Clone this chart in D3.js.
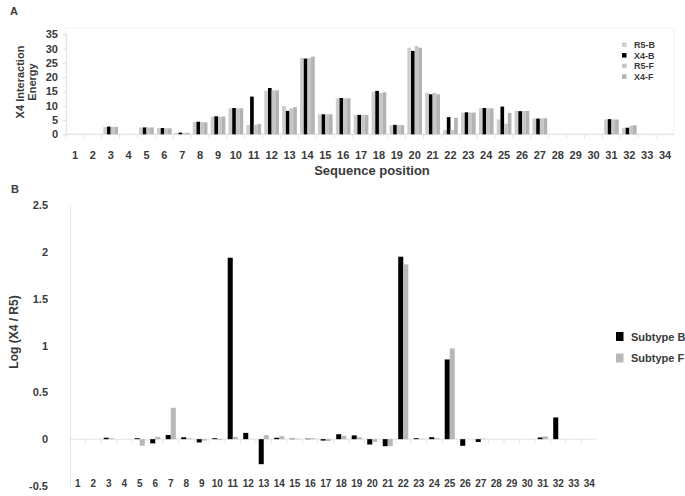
<!DOCTYPE html>
<html lang="en">
<head>
    <meta charset="UTF-8">
    <title>X4 / R5 interaction energy</title>
    <script src="https://d3js.org/d3.v7.min.js"></script>
    <style>
        body {
            margin: 0;
            background-color: #ffffff;
        }
        svg text {
            font-family: "Liberation Sans", Arial, sans-serif;
            font-weight: bold;
            fill: #3a3a3a;
        }
    </style>
</head>
<body>
<svg id='canvas' width='685' height='496'></svg>

<script>
let positions = ['1','2','3','4','5','6','7','8','9','10','11','12','13','14','15','16','17',
    '18','19','20','21','22','23','24','25','26','27','28','29','30','31','32','33','34']

// panel A - X4 interaction energy
let seriesA = ['R5-B', 'X4-B', 'R5-F', 'X4-F']
let r5B = [0,0,2.6,0,2.4,2.2,0.5,4.3,6.2,9.1,3.3,15.3,9.9,26.7,7.0,12.6,6.8,14.9,3.2,30.3,14.5,1.5,7.6,9.1,5.2,8.2,5.6,0,0,0,5.2,2.3,0,0]
let x4B = [0,0,2.7,0,2.4,2.2,0.6,4.4,6.3,9.2,13.2,16.2,8.2,26.5,7.0,12.7,6.8,15.2,3.3,29.2,14.0,6.0,7.7,9.2,9.7,8.1,5.5,0,0,0,5.3,2.3,0,0]
let r5F = [0,0,2.6,0,2.4,2.1,0.5,4.3,6.2,9.1,3.3,15.4,9.1,26.7,7.0,12.6,6.8,14.5,3.2,30.9,14.5,1.5,7.6,9.1,3.7,8.2,5.6,0,0,0,5.2,3.0,0,0]
let x4F = [0,0,2.6,0,2.4,2.1,0.5,4.2,6.2,9.1,3.6,15.4,9.5,27.2,7.0,12.6,6.8,14.7,3.2,30.3,14.0,5.8,7.6,9.1,7.5,8.2,5.6,0,0,0,5.2,3.2,0,0]
let ticksA = [0, 5, 10, 15, 20, 25, 30, 35]

// panel B - log(X4 / R5)
let seriesB = ['Subtype B', 'Subtype F']
let logB = [0,0,0.015,0,0.01,-0.045,0.045,0.02,-0.035,0.01,1.937,0.067,-0.267,0.015,0.005,0.005,-0.015,0.053,0.04,-0.057,-0.075,1.948,0.01,0.021,0.851,-0.071,-0.03,0,0,0,0.018,0.232,0,0]
let logF = [0,0,0.01,0,-0.07,0.025,0.335,0.01,-0.015,-0.01,0.025,0,0.043,0.032,0.005,0.01,-0.02,0.036,0.02,-0.03,-0.075,1.866,0.005,0.01,0.969,0,0.005,0,0,0,0.03,0,0,0]
let ticksB = [-0.5, 0, 0.5, 1, 1.5, 2, 2.5]

let colorsA = ['#cdcdcd', '#000000', '#c6c6c6', '#b3b3b3']
let colorsB = ['#000000', '#b8b8b8']

let canvas = d3.select('#canvas')

let drawPanelA = () => {
    let x = d3.scaleBand().domain(positions).range([66, 674]).paddingInner(0.18).paddingOuter(0.09)
    let sub = d3.scaleBand().domain(seriesA).range([0, x.bandwidth()])
    let y = d3.scaleLinear().domain([0, 35]).range([134.3, 34.3])
    let values = [r5B, x4B, r5F, x4F]

    let g = canvas.append('g')

    g.append('rect')
        .attr('x', 66).attr('y', 28).attr('width', 608).attr('height', 106.3)
        .attr('fill', 'none').attr('stroke', '#f1f1f1')

    let yAxis = g.append('g')
        .attr('transform', 'translate(66,0)')
        .call(d3.axisLeft(y).tickValues(ticksA).tickSize(3).tickPadding(5))
    yAxis.select('.domain').attr('stroke', '#e4e4e4')
    yAxis.selectAll('line').attr('stroke', '#e4e4e4')
    yAxis.selectAll('text').attr('font-size', 11).style('font-family', null)

    g.append('line')
        .attr('x1', 66).attr('x2', 674).attr('y1', y(0)).attr('y2', y(0))
        .attr('stroke', '#e2e2e2')

    g.selectAll('.tickA')
        .data(positions)
        .enter()
        .append('line')
        .attr('x1', (d) => x(d) - x.step() * x.paddingInner() / 2)
        .attr('x2', (d) => x(d) - x.step() * x.paddingInner() / 2)
        .attr('y1', y(0)).attr('y2', y(0) + 4)
        .attr('stroke', '#e4e4e4')

    seriesA.forEach((s, i) => {
        g.selectAll('.bar' + i)
            .data(values[i])
            .enter()
            .append('rect')
            .attr('x', (d, j) => x(positions[j]) + sub(s))
            .attr('y', (d) => y(d))
            .attr('width', sub.bandwidth())
            .attr('height', (d) => y(0) - y(d))
            .attr('fill', colorsA[i])
    })

    g.selectAll('.labelA')
        .data(positions)
        .enter()
        .append('text')
        .attr('x', (d) => x(d) + x.bandwidth() / 2)
        .attr('y', 159)
        .attr('text-anchor', 'middle')
        .attr('font-size', 11)
        .text((d) => d)

    g.append('text')
        .attr('x', 372).attr('y', 175)
        .attr('text-anchor', 'middle')
        .attr('font-size', 13)
        .text('Sequence position')

    g.append('text')
        .attr('transform', 'translate(24,82) rotate(-90)')
        .attr('text-anchor', 'middle')
        .attr('font-size', 11)
        .text('X4 Interaction')
    g.append('text')
        .attr('transform', 'translate(36,82) rotate(-90)')
        .attr('text-anchor', 'middle')
        .attr('font-size', 11)
        .text('Energy')

    g.append('text').attr('x', 10).attr('y', 15).attr('font-size', 11).text('A')

    let legend = g.append('g')
    seriesA.forEach((s, i) => {
        let ly = 45 + i * 10.6
        legend.append('rect')
            .attr('x', 622).attr('y', ly - 2.5).attr('width', 4.5).attr('height', 4.5)
            .attr('fill', colorsA[i])
        legend.append('text')
            .attr('x', 634).attr('y', ly + 3)
            .attr('font-size', 9)
            .text(s)
    })
}

let drawPanelB = () => {
    let x = d3.scaleBand().domain(positions).range([70, 597]).paddingInner(0.35).paddingOuter(0.175)
    let sub = d3.scaleBand().domain(seriesB).range([0, x.bandwidth()])
    let y = d3.scaleLinear().domain([-0.5, 2.5]).range([486, 205])
    let values = [logB, logF]

    let g = canvas.append('g')

    let yAxis = g.append('g')
        .attr('transform', 'translate(70,0)')
        .call(d3.axisLeft(y).tickValues(ticksB).tickSize(0).tickPadding(22).tickFormat((d) => d))
    yAxis.select('.domain').attr('stroke', '#e6e6e6')
    yAxis.selectAll('text').attr('font-size', 11).style('font-family', null)

    g.append('line')
        .attr('x1', 70).attr('x2', 597).attr('y1', y(0)).attr('y2', y(0))
        .attr('stroke', '#e2e2e2')

    g.selectAll('.tickB')
        .data(positions)
        .enter()
        .append('line')
        .attr('x1', (d) => x(d) - x.step() * x.paddingInner() / 2)
        .attr('x2', (d) => x(d) - x.step() * x.paddingInner() / 2)
        .attr('y1', y(0)).attr('y2', y(0) + 4)
        .attr('stroke', '#e4e4e4')

    seriesB.forEach((s, i) => {
        g.selectAll('.barB' + i)
            .data(values[i])
            .enter()
            .append('rect')
            .attr('x', (d, j) => x(positions[j]) + sub(s))
            .attr('y', (d) => y(Math.max(0, d)))
            .attr('width', sub.bandwidth())
            .attr('height', (d) => Math.abs(y(d) - y(0)))
            .attr('fill', colorsB[i])
    })

    g.selectAll('.labelB')
        .data(positions)
        .enter()
        .append('text')
        .attr('x', (d) => x(d) + x.bandwidth() / 2)
        .attr('y', 487)
        .attr('text-anchor', 'middle')
        .attr('font-size', 10)
        .text((d) => d)

    g.append('text')
        .attr('transform', 'translate(18,332) rotate(-90)')
        .attr('text-anchor', 'middle')
        .attr('font-size', 12)
        .text('Log (X4 / R5)')

    g.append('text').attr('x', 11).attr('y', 193).attr('font-size', 11).text('B')

    seriesB.forEach((s, i) => {
        let ly = 336.5 + i * 21.5
        g.append('rect')
            .attr('x', 616).attr('y', ly - 4.5).attr('width', 7.5).attr('height', 9)
            .attr('fill', colorsB[i])
        g.append('text')
            .attr('x', 631).attr('y', ly + 4)
            .attr('font-size', 11)
            .text(s)
    })
}

drawPanelA()
drawPanelB()
</script>
</body>
</html>
